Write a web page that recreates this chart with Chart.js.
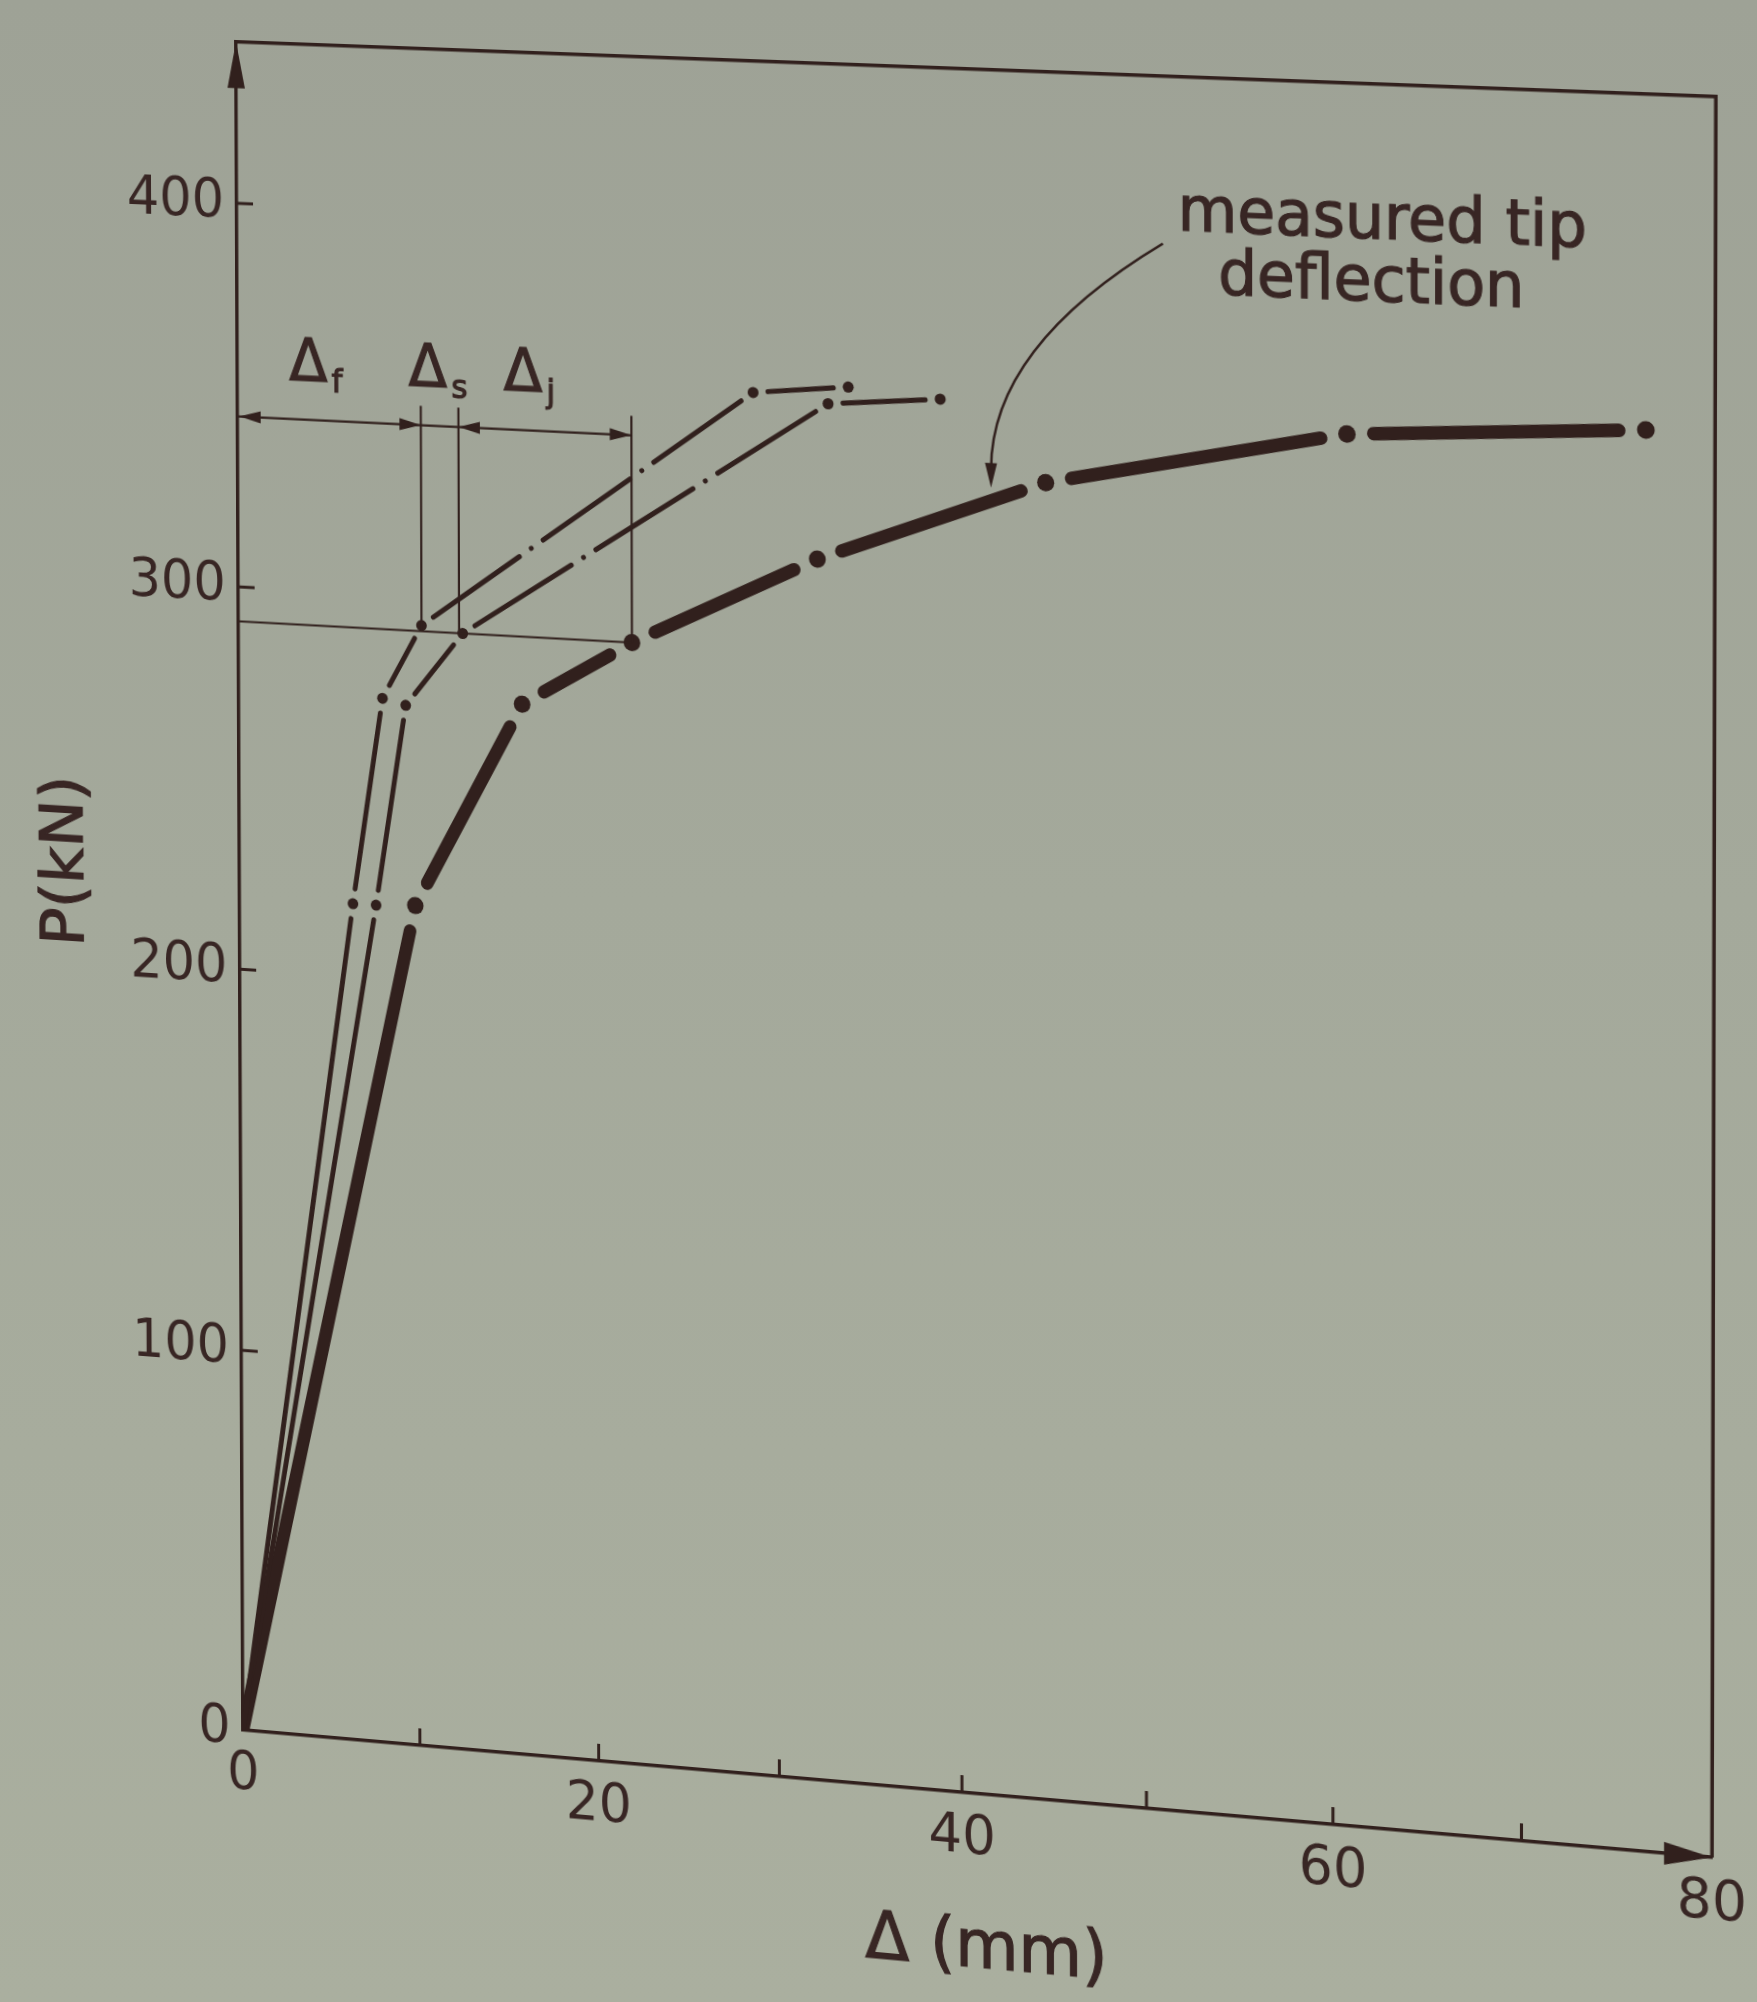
<!DOCTYPE html>
<html>
<head>
<meta charset="utf-8">
<script src="https://cdn.jsdelivr.net/npm/chart.js@4.4.1/dist/chart.umd.min.js"></script>
<style>
  html, body { margin: 0; padding: 0; overflow: hidden; }
  body { width: 1757px; height: 2002px; background: linear-gradient(180deg, #9ea296 0%, #a4a99b 45%, #aaaf9f 100%); }
  #pd { position: absolute; left: 0; top: 0; transform-origin: 0 0; }
</style>
</head>
<body>
<canvas id="pd" width="1757" height="2002"></canvas>
<script>
// load P (kN) vs deflection (mm)
const flexureX = [0, 6.4, 8.1, 10.3, 28.7, 33.9];
const flexureY = [0, 219, 273, 292.5, 357, 359.5];
const flexShearX = [0, 7.7, 9.4, 12.6, 32.8, 38.9];
const flexShearY = [0, 219, 271.5, 291, 355, 357.5];
const measuredX = [0, 9.9, 15.9, 22.0, 32.2, 44.6, 60.7, 76.4];
const measuredY = [0, 219.5, 273.5, 291, 315, 337.5, 353.5, 358];

const xTicks = [0, 20, 40, 60, 80];
const yTicks = [0, 100, 200, 300, 400];

// split of the tip deflection at the reference load
const refLoad = 291;
const dimLoad = 344.5;
const dimEdges = [0, 10.3, 12.4, 22.0];
const dimNames = ['f', 's', 'j'];

const ink = '#31201d';
const textInk = '#382624';
const family = '"DejaVu Sans", sans-serif';

// the printed page was photographed at an angle: map the plot corners
// onto where they sit in the photo
const plotCorners = [[240, 44], [1716, 44], [240, 1730], [1716, 1730]];
const photoCorners = [[236, 41], [1722, 96], [243, 1730], [1718, 1858]];

function homography(src, dst) {
    const A = [], B = [];
    for (let i = 0; i < 4; i++) {
        const [u, v] = src[i], [X, Y] = dst[i];
        A.push([u, v, 1, 0, 0, 0, -u * X, -v * X]); B.push(X);
        A.push([0, 0, 0, u, v, 1, -u * Y, -v * Y]); B.push(Y);
    }
    for (let c = 0; c < 8; c++) {
        let p = c;
        for (let r = c + 1; r < 8; r++) if (Math.abs(A[r][c]) > Math.abs(A[p][c])) p = r;
        [A[c], A[p]] = [A[p], A[c]];
        [B[c], B[p]] = [B[p], B[c]];
        for (let r = 0; r < 8; r++) {
            if (r === c) continue;
            const f = A[r][c] / A[c][c];
            for (let k = c; k < 8; k++) A[r][k] -= f * A[c][k];
            B[r] -= f * B[c];
        }
    }
    return B.map((b, i) => b / A[i][i]);
}

const [ha, hb, hc, hd, he, hf, hg, hh] = homography(plotCorners, photoCorners);
document.getElementById('pd').style.transform =
    `matrix3d(${ha},${hd},0,${hg},${hb},${he},0,${hh},0,0,1,0,${hc},${hf},0,1)`;

function dashFor(c, period, gap) {
    const len = Math.hypot(c.p1.x - c.p0.x, c.p1.y - c.p0.y);
    if (c.p0DataIndex === 0) return [Math.max(len - gap, 1), gap + 60];
    const n = Math.max(1, Math.round(len / period));
    const step = len / n;
    return [0.01, gap, Math.max(step - 2 * gap - 0.01, 1), gap];
}

function curve(xs, ys, width, dot, period, gap) {
    return {
        data: xs.map((v, i) => ({ x: v, y: ys[i] })),
        borderColor: ink,
        borderWidth: width,
        borderCapStyle: 'round',
        borderJoinStyle: 'round',
        pointRadius: c => c.dataIndex === 0 ? 0 : dot,
        pointBackgroundColor: ink,
        pointBorderWidth: 0,
        tension: 0,
        fill: false,
        segment: { borderDash: c => dashFor(c, period, gap) }
    };
}

function head(ctx, tx, ty, dx, dy, len, half) {
    const n = Math.hypot(dx, dy);
    const ux = dx / n, uy = dy / n;
    ctx.beginPath();
    ctx.moveTo(tx, ty);
    ctx.lineTo(tx - ux * len - uy * half, ty - uy * len + ux * half);
    ctx.lineTo(tx - ux * len + uy * half, ty - uy * len - ux * half);
    ctx.closePath();
    ctx.fill();
}

function seg(ctx, x1, y1, x2, y2) {
    ctx.beginPath();
    ctx.moveTo(x1, y1);
    ctx.lineTo(x2, y2);
    ctx.stroke();
}

function heavyText(ctx, s, x, y) {
    ctx.fillText(s, x, y);
    ctx.strokeText(s, x, y);
}

const annot = {
    id: 'annot',
    afterDatasetsDraw(chart) {
        const { ctx, chartArea: a, scales: { x, y } } = chart;
        ctx.save();
        ctx.strokeStyle = ink;
        ctx.fillStyle = ink;
        ctx.lineCap = 'butt';

        // frame
        ctx.lineWidth = 3.5;
        ctx.beginPath();
        ctx.moveTo(a.left, a.top);
        ctx.lineTo(a.right, a.top);
        ctx.lineTo(a.right, a.bottom);
        ctx.stroke();

        // inward ticks
        ctx.lineWidth = 3;
        for (let v = 10; v < 80; v += 10) {
            const px = x.getPixelForValue(v);
            seg(ctx, px, a.bottom, px, a.bottom - 17);
        }
        for (const v of yTicks.slice(1)) {
            const py = y.getPixelForValue(v);
            seg(ctx, a.left, py, a.left + 17, py);
        }

        // axis arrows
        head(ctx, a.left, a.top, 0, -1, 46, 9);
        head(ctx, a.right, a.bottom, 1, 0, 46, 11);

        // reference load line and dimension lines
        ctx.lineWidth = 2.2;
        const yRef = y.getPixelForValue(refLoad);
        const yDim = y.getPixelForValue(dimLoad);
        const xs = dimEdges.map(v => x.getPixelForValue(v));
        seg(ctx, xs[0], yRef, xs[3], yRef);
        seg(ctx, xs[0], yDim, xs[3], yDim);
        for (const px of xs.slice(1)) {
            seg(ctx, px, yRef, px, y.getPixelForValue(dimLoad + 5));
        }
        head(ctx, xs[0] + 2, yDim, -1, 0, 22, 6);
        head(ctx, xs[1], yDim, 1, 0, 22, 6);
        head(ctx, xs[2], yDim, -1, 0, 22, 6);
        head(ctx, xs[3], yDim, 1, 0, 22, 6);

        // delta labels
        ctx.fillStyle = textInk;
        ctx.strokeStyle = textInk;
        ctx.lineWidth = 1.2;
        ctx.textBaseline = 'alphabetic';
        const labelAt = [4.0, 10.7, 16.0];
        const yLab = y.getPixelForValue(354.5);
        labelAt.forEach((v, i) => {
            const cx = x.getPixelForValue(v);
            ctx.font = '58px ' + family;
            ctx.textAlign = 'center';
            heavyText(ctx, 'Δ', cx, yLab);
            ctx.font = '32px ' + family;
            ctx.textAlign = 'left';
            heavyText(ctx, dimNames[i], cx + 24, yLab + 10);
        });

        // callout
        ctx.font = '60px ' + family;
        ctx.textAlign = 'center';
        heavyText(ctx, 'measured tip', x.getPixelForValue(62.5), y.getPixelForValue(403));
        heavyText(ctx, 'deflection', x.getPixelForValue(61.95), y.getPixelForValue(387.3));

        // axis titles
        ctx.font = '65px ' + family;
        ctx.textBaseline = 'middle';
        heavyText(ctx, 'Δ (mm)', x.getPixelForValue(41.3), a.bottom + 154);
        ctx.save();
        ctx.translate(60, 870);
        ctx.rotate(-Math.PI / 2);
        ctx.font = '63px ' + family;
        heavyText(ctx, 'P(kN)', 0, 0);
        ctx.restore();

        ctx.strokeStyle = ink;
        ctx.fillStyle = ink;
        ctx.lineWidth = 2.5;
        const sx = x.getPixelForValue(50.9), sy = y.getPixelForValue(399.6);
        const cx = x.getPixelForValue(41.65), cy = y.getPixelForValue(371.5);
        const ex = x.getPixelForValue(41.65), ey = y.getPixelForValue(335.5);
        ctx.beginPath();
        ctx.moveTo(sx, sy);
        ctx.quadraticCurveTo(cx, cy, ex, ey - 18);
        ctx.stroke();
        head(ctx, ex, ey, 0, 1, 24, 6);

        ctx.restore();
    }
};

new Chart(document.getElementById('pd'), {
    type: 'line',
    data: {
        datasets: [
            curve(flexureX, flexureY, 5, 5.5, 150, 15),
            curve(flexShearX, flexShearY, 5, 5.5, 150, 15),
            curve(measuredX, measuredY, 13, 8.5, 380, 26)
        ]
    },
    options: {
        responsive: false,
        animation: false,
        devicePixelRatio: 1,
        events: [],
        layout: { padding: { top: 44, right: 41, left: 0, bottom: 0 } },
        plugins: { legend: { display: false }, tooltip: { enabled: false } },
        scales: {
            x: {
                type: 'linear',
                min: 0,
                max: 80,
                afterFit: s => { s.height = 272; },
                grid: { display: false, drawTicks: false },
                border: { display: true, color: ink, width: 3.5 },
                ticks: {
                    stepSize: 10,
                    autoSkip: false,
                    maxRotation: 0,
                    padding: 13,
                    color: textInk,
                    font: { family: family, size: 53 },
                    callback: v => xTicks.includes(v) ? String(v) : ''
                }
            },
            y: {
                type: 'linear',
                min: 0,
                max: 442,
                afterFit: s => { s.width = 240; },
                grid: { display: false, drawTicks: false },
                border: { display: true, color: ink, width: 3.5 },
                ticks: {
                    stepSize: 100,
                    autoSkip: false,
                    padding: 13,
                    color: textInk,
                    font: { family: family, size: 53 },
                    callback: v => yTicks.includes(v) ? String(v) : ''
                }
            }
        }
    },
    plugins: [annot]
});
</script>
</body>
</html>
